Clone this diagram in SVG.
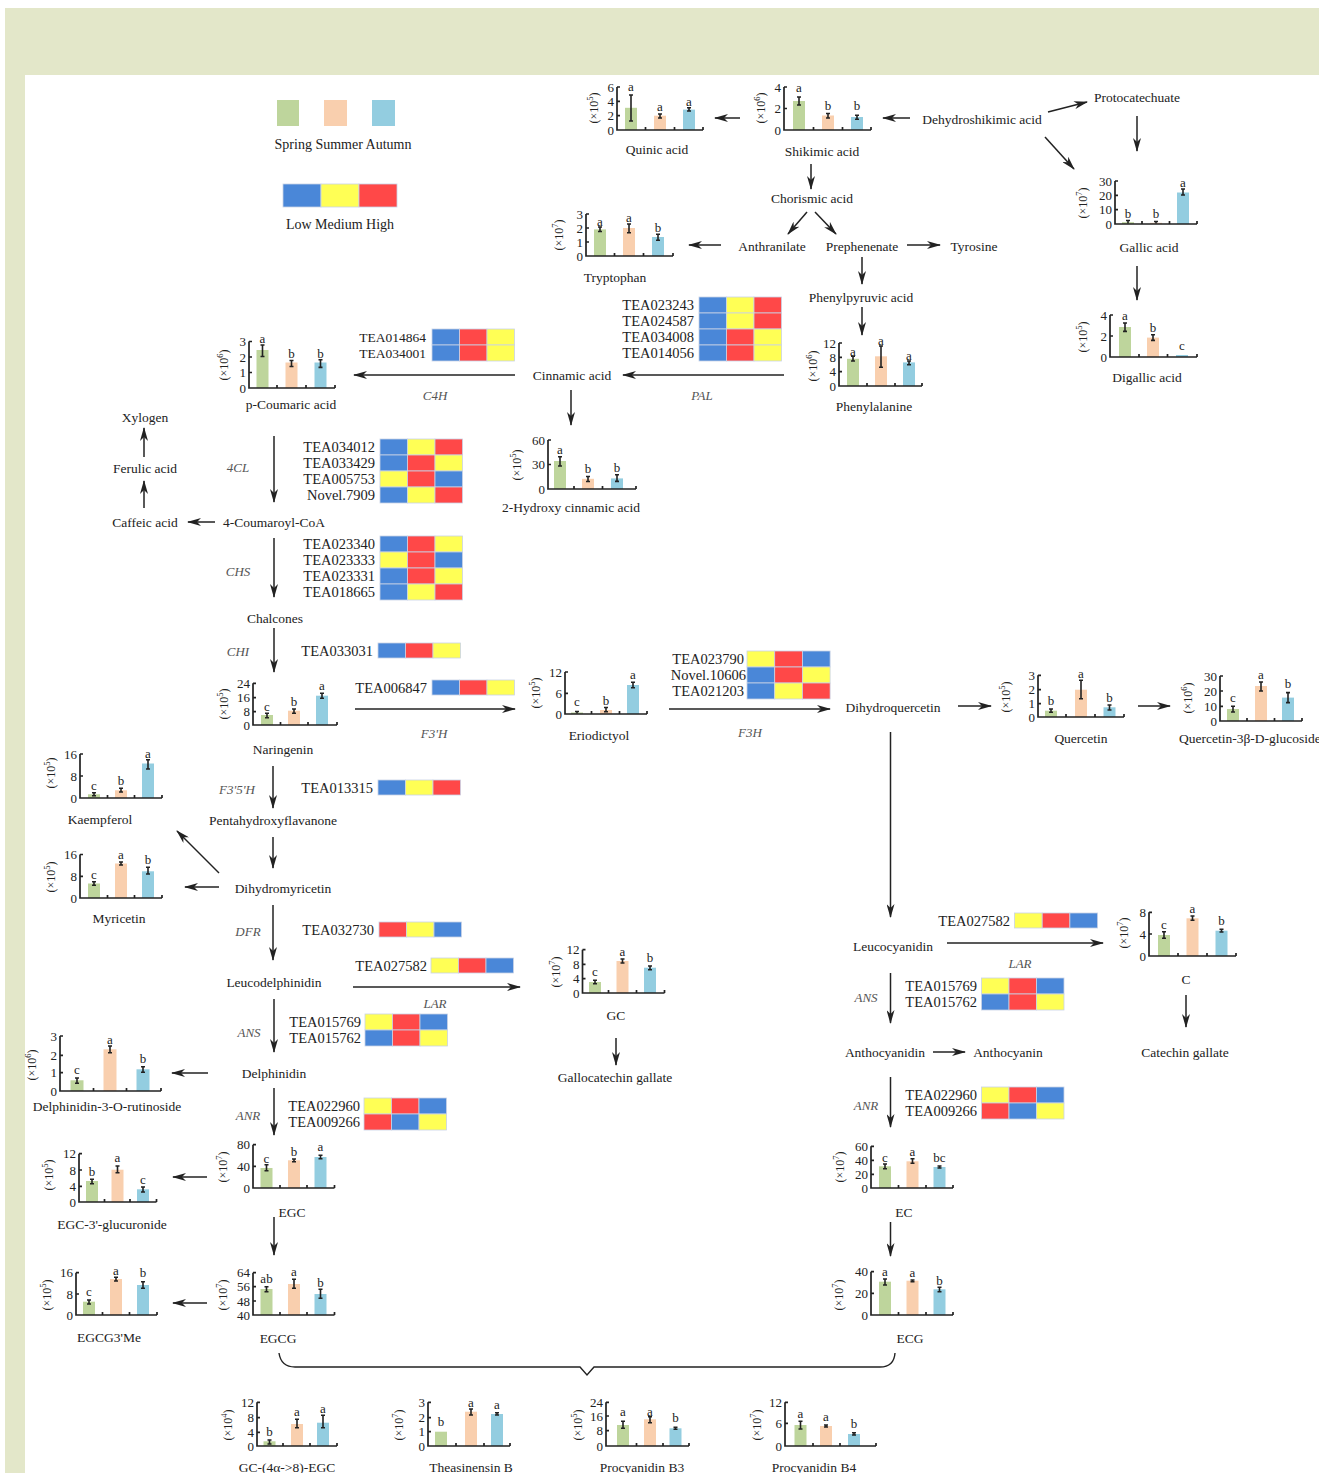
<svg xmlns="http://www.w3.org/2000/svg" width="1319" height="1473" viewBox="0 0 1319 1473">
<style>
text{font-family:"Liberation Serif","Times New Roman",serif;fill:#222;dominant-baseline:central}
.lb{font-size:13.5px;text-anchor:middle}
.tk{font-size:13px;text-anchor:end}
.lt{font-size:13px;text-anchor:middle}
.yl{font-size:12px;text-anchor:middle}
.sp{font-size:8.5px}
.en{font-size:13px;font-style:italic;text-anchor:middle;fill:#555}
.gn{font-size:14.5px;text-anchor:end}
.g{fill:#bed59c}.o{fill:#f9cfae}.b{fill:#93cde0}
.hB{fill:#4a87d8;stroke:#c9d3e6;stroke-width:0.8}.hY{fill:#ffff55;stroke:#c9d3e6;stroke-width:0.8}.hR{fill:#ff4848;stroke:#c9d3e6;stroke-width:0.8}
.ax{fill:none;stroke:#222;stroke-width:1.7}
.eb{fill:none;stroke:#222;stroke-width:1.6}
.ar{fill:none;stroke:#222;stroke-width:1.5;marker-end:url(#ah)}
.br{fill:none;stroke:#222;stroke-width:1.4}
</style>
<defs>
<marker id="ah" markerUnits="userSpaceOnUse" markerWidth="14" markerHeight="8" refX="13" refY="4" orient="auto"><path d="M0,0 L14,4 L0,8 L4,4 z" fill="#222"/></marker>
</defs>
<rect x="0" y="0" width="1319" height="1473" fill="#fff"/>
<rect x="5" y="8" width="1314" height="67" fill="#e3e7c9"/>
<rect x="5" y="75" width="20" height="1398" fill="#e3e7c9"/>

<g id="legend">
<rect class="g" x="277" y="100" width="22" height="26"/>
<rect class="o" x="324" y="100" width="23" height="26"/>
<rect class="b" x="372" y="100" width="23" height="26"/>
<text class="lb" x="343" y="144" style="font-size:14px">Spring Summer Autumn</text>
<rect class="hB" x="283" y="184" width="38" height="23"/>
<rect class="hY" x="321" y="184" width="38" height="23"/>
<rect class="hR" x="359" y="184" width="38" height="23"/>
<text class="lb" x="340" y="224" style="font-size:14px">Low Medium High</text>
</g>

<g id="connectors">
<line class="ar" x1="740" y1="118" x2="715" y2="118"/>
<line class="ar" x1="910" y1="118" x2="883" y2="118"/>
<line class="ar" x1="1048" y1="112" x2="1087" y2="102"/>
<line class="ar" x1="1045" y1="137" x2="1074" y2="169"/>
<line class="ar" x1="1137" y1="116" x2="1137" y2="151"/>
<line class="ar" x1="1137" y1="266" x2="1137" y2="300"/>
<line class="ar" x1="811" y1="164" x2="811" y2="189"/>
<line class="ar" x1="807" y1="212" x2="788" y2="234"/>
<line class="ar" x1="815" y1="212" x2="836" y2="234"/>
<line class="ar" x1="721" y1="245" x2="689" y2="245"/>
<line class="ar" x1="907" y1="245" x2="940" y2="245"/>
<line class="ar" x1="862" y1="257" x2="862" y2="284"/>
<line class="ar" x1="862" y1="307" x2="862" y2="335"/>
<line class="ar" x1="784" y1="375" x2="623" y2="375"/>
<line class="ar" x1="515" y1="375" x2="354" y2="375"/>
<line class="ar" x1="571" y1="390" x2="571" y2="425"/>
<line class="ar" x1="274" y1="436" x2="274" y2="502"/>
<line class="ar" x1="215" y1="522" x2="188" y2="522"/>
<line class="ar" x1="144" y1="508" x2="144" y2="481"/>
<line class="ar" x1="144" y1="457" x2="144" y2="428"/>
<line class="ar" x1="274" y1="538" x2="274" y2="597"/>
<line class="ar" x1="274" y1="628" x2="274" y2="672"/>
<line class="ar" x1="355" y1="709" x2="515" y2="709"/>
<line class="ar" x1="669" y1="709" x2="830" y2="709"/>
<line class="ar" x1="958" y1="706" x2="991" y2="706"/>
<line class="ar" x1="1138" y1="706" x2="1170" y2="706"/>
<line class="ar" x1="890.5" y1="732" x2="890.5" y2="917"/>
<line class="ar" x1="273" y1="766" x2="273" y2="808"/>
<line class="ar" x1="273" y1="837" x2="273" y2="868"/>
<line class="ar" x1="219" y1="887" x2="185" y2="887"/>
<line class="ar" x1="219" y1="873" x2="177" y2="831"/>
<line class="ar" x1="273" y1="905" x2="273" y2="960"/>
<line class="ar" x1="353" y1="987" x2="520" y2="987"/>
<line class="ar" x1="274" y1="999" x2="274" y2="1052"/>
<line class="ar" x1="208" y1="1073" x2="172" y2="1073"/>
<line class="ar" x1="274" y1="1088" x2="274" y2="1135"/>
<line class="ar" x1="207" y1="1177" x2="173" y2="1177"/>
<line class="ar" x1="274" y1="1217" x2="274" y2="1255"/>
<line class="ar" x1="207" y1="1303" x2="173" y2="1303"/>
<line class="ar" x1="616" y1="1038" x2="616" y2="1065"/>
<line class="ar" x1="947" y1="943" x2="1103" y2="943"/>
<line class="ar" x1="1186" y1="995" x2="1186" y2="1027"/>
<line class="ar" x1="890.5" y1="973" x2="890.5" y2="1023"/>
<line class="ar" x1="933" y1="1052" x2="965" y2="1052"/>
<line class="ar" x1="890.5" y1="1077" x2="890.5" y2="1127"/>
<line class="ar" x1="890.5" y1="1222" x2="890.5" y2="1256"/>
<path class="br" d="M279,1353 Q281,1367 295,1367 L580,1367 L587,1375 L594,1367 L880,1367 Q894,1367 895,1353"/>
</g>

<g id="labels">
<text class="lb" x="982" y="119">Dehydroshikimic acid</text>
<text class="lb" x="1137" y="97">Protocatechuate</text>
<text class="lb" x="812" y="198">Chorismic acid</text>
<text class="lb" x="772" y="246">Anthranilate</text>
<text class="lb" x="862" y="246">Prephenenate</text>
<text class="lb" x="974" y="246">Tyrosine</text>
<text class="lb" x="861" y="297">Phenylpyruvic acid</text>
<text class="lb" x="572" y="375">Cinnamic acid</text>
<text class="en" x="702" y="395">PAL</text>
<text class="en" x="435" y="395">C4H</text>
<text class="lb" x="145" y="417">Xylogen</text>
<text class="lb" x="145" y="468">Ferulic acid</text>
<text class="lb" x="145" y="522">Caffeic acid</text>
<text class="lb" x="274" y="522">4-Coumaroyl-CoA</text>
<text class="en" x="238" y="467">4CL</text>
<text class="en" x="238" y="571">CHS</text>
<text class="lb" x="275" y="618">Chalcones</text>
<text class="en" x="238" y="651">CHI</text>
<text class="en" x="434" y="733">F3'H</text>
<text class="en" x="750" y="732">F3H</text>
<text class="lb" x="893" y="707">Dihydroquercetin</text>
<text class="en" x="237" y="789">F3'5'H</text>
<text class="lb" x="273" y="820">Pentahydroxyflavanone</text>
<text class="lb" x="283" y="888">Dihydromyricetin</text>
<text class="en" x="248" y="931">DFR</text>
<text class="lb" x="274" y="982">Leucodelphinidin</text>
<text class="en" x="435" y="1003">LAR</text>
<text class="en" x="249" y="1032">ANS</text>
<text class="lb" x="274" y="1073">Delphinidin</text>
<text class="en" x="248" y="1115">ANR</text>
<text class="lb" x="615" y="1077">Gallocatechin gallate</text>
<text class="lb" x="893" y="946">Leucocyanidin</text>
<text class="en" x="1020" y="963">LAR</text>
<text class="en" x="866" y="997">ANS</text>
<text class="lb" x="885" y="1052">Anthocyanidin</text>
<text class="lb" x="1008" y="1052">Anthocyanin</text>
<text class="lb" x="1185" y="1052">Catechin gallate</text>
<text class="en" x="866" y="1105">ANR</text>
</g>

<g id="h-pal" transform="translate(699,297)">
<rect class="hB" x="0" y="0" width="27.5" height="16"/><rect class="hY" x="27.5" y="0" width="27.5" height="16"/><rect class="hR" x="55" y="0" width="27.5" height="16"/>
<rect class="hB" x="0" y="16" width="27.5" height="16"/><rect class="hY" x="27.5" y="16" width="27.5" height="16"/><rect class="hR" x="55" y="16" width="27.5" height="16"/>
<rect class="hB" x="0" y="32" width="27.5" height="16"/><rect class="hR" x="27.5" y="32" width="27.5" height="16"/><rect class="hY" x="55" y="32" width="27.5" height="16"/>
<rect class="hB" x="0" y="48" width="27.5" height="16"/><rect class="hR" x="27.5" y="48" width="27.5" height="16"/><rect class="hY" x="55" y="48" width="27.5" height="16"/>
<text class="gn" x="-5" y="8">TEA023243</text><text class="gn" x="-5" y="24">TEA024587</text><text class="gn" x="-5" y="40">TEA034008</text><text class="gn" x="-5" y="56">TEA014056</text>
</g>
<g id="h-c4h" transform="translate(432,329)">
<rect class="hB" x="0" y="0" width="27.5" height="16"/><rect class="hR" x="27.5" y="0" width="27.5" height="16"/><rect class="hY" x="55" y="0" width="27.5" height="16"/>
<rect class="hB" x="0" y="16" width="27.5" height="16"/><rect class="hR" x="27.5" y="16" width="27.5" height="16"/><rect class="hY" x="55" y="16" width="27.5" height="16"/>
<text class="gn" x="-6" y="8" style="font-size:13.5px">TEA014864</text><text class="gn" x="-6" y="24" style="font-size:13.5px">TEA034001</text>
</g>
<g id="h-4cl" transform="translate(380,439)">
<rect class="hB" x="0" y="0" width="27.5" height="16"/><rect class="hY" x="27.5" y="0" width="27.5" height="16"/><rect class="hR" x="55" y="0" width="27.5" height="16"/>
<rect class="hB" x="0" y="16" width="27.5" height="16"/><rect class="hR" x="27.5" y="16" width="27.5" height="16"/><rect class="hY" x="55" y="16" width="27.5" height="16"/>
<rect class="hY" x="0" y="32" width="27.5" height="16"/><rect class="hR" x="27.5" y="32" width="27.5" height="16"/><rect class="hB" x="55" y="32" width="27.5" height="16"/>
<rect class="hB" x="0" y="48" width="27.5" height="16"/><rect class="hY" x="27.5" y="48" width="27.5" height="16"/><rect class="hR" x="55" y="48" width="27.5" height="16"/>
<text class="gn" x="-5" y="8">TEA034012</text><text class="gn" x="-5" y="24">TEA033429</text><text class="gn" x="-5" y="40">TEA005753</text><text class="gn" x="-5" y="56">Novel.7909</text>
</g>
<g id="h-chs" transform="translate(380,536)">
<rect class="hB" x="0" y="0" width="27.5" height="16"/><rect class="hR" x="27.5" y="0" width="27.5" height="16"/><rect class="hY" x="55" y="0" width="27.5" height="16"/>
<rect class="hY" x="0" y="16" width="27.5" height="16"/><rect class="hR" x="27.5" y="16" width="27.5" height="16"/><rect class="hB" x="55" y="16" width="27.5" height="16"/>
<rect class="hB" x="0" y="32" width="27.5" height="16"/><rect class="hR" x="27.5" y="32" width="27.5" height="16"/><rect class="hY" x="55" y="32" width="27.5" height="16"/>
<rect class="hB" x="0" y="48" width="27.5" height="16"/><rect class="hY" x="27.5" y="48" width="27.5" height="16"/><rect class="hR" x="55" y="48" width="27.5" height="16"/>
<text class="gn" x="-5" y="8">TEA023340</text><text class="gn" x="-5" y="24">TEA023333</text><text class="gn" x="-5" y="40">TEA023331</text><text class="gn" x="-5" y="56">TEA018665</text>
</g>
<g id="h-chi" transform="translate(378,643)">
<rect class="hB" x="0" y="0" width="27.5" height="15"/><rect class="hR" x="27.5" y="0" width="27.5" height="15"/><rect class="hY" x="55" y="0" width="27.5" height="15"/>
<text class="gn" x="-5" y="7.5">TEA033031</text>
</g>
<g id="h-f3h1" transform="translate(432,680)">
<rect class="hB" x="0" y="0" width="27.5" height="15"/><rect class="hR" x="27.5" y="0" width="27.5" height="15"/><rect class="hY" x="55" y="0" width="27.5" height="15"/>
<text class="gn" x="-5" y="7.5">TEA006847</text>
</g>
<g id="h-f3h" transform="translate(747,651)">
<rect class="hY" x="0" y="0" width="27.7" height="16"/><rect class="hR" x="27.7" y="0" width="27.7" height="16"/><rect class="hB" x="55.4" y="0" width="27.7" height="16"/>
<rect class="hB" x="0" y="16" width="27.7" height="16"/><rect class="hR" x="27.7" y="16" width="27.7" height="16"/><rect class="hY" x="55.4" y="16" width="27.7" height="16"/>
<rect class="hB" x="0" y="32" width="27.7" height="16"/><rect class="hY" x="27.7" y="32" width="27.7" height="16"/><rect class="hR" x="55.4" y="32" width="27.7" height="16"/>
<text class="gn" x="-3" y="8">TEA023790</text><text class="gn" x="-1" y="24">Novel.10606</text><text class="gn" x="-3" y="40">TEA021203</text>
</g>
<g id="h-f35h" transform="translate(378,780)">
<rect class="hB" x="0" y="0" width="27.5" height="15"/><rect class="hY" x="27.5" y="0" width="27.5" height="15"/><rect class="hR" x="55" y="0" width="27.5" height="15"/>
<text class="gn" x="-5" y="7.5">TEA013315</text>
</g>
<g id="h-dfr" transform="translate(379,922)">
<rect class="hR" x="0" y="0" width="27.5" height="15"/><rect class="hY" x="27.5" y="0" width="27.5" height="15"/><rect class="hB" x="55" y="0" width="27.5" height="15"/>
<text class="gn" x="-5" y="7.5">TEA032730</text>
</g>
<g id="h-lar1" transform="translate(431,958)">
<rect class="hY" x="0" y="0" width="27.5" height="15"/><rect class="hR" x="27.5" y="0" width="27.5" height="15"/><rect class="hB" x="55" y="0" width="27.5" height="15"/>
<text class="gn" x="-4" y="7.5">TEA027582</text>
</g>
<g id="h-ans1" transform="translate(365,1014)">
<rect class="hY" x="0" y="0" width="27.5" height="16"/><rect class="hR" x="27.5" y="0" width="27.5" height="16"/><rect class="hB" x="55" y="0" width="27.5" height="16"/>
<rect class="hB" x="0" y="16" width="27.5" height="16"/><rect class="hR" x="27.5" y="16" width="27.5" height="16"/><rect class="hY" x="55" y="16" width="27.5" height="16"/>
<text class="gn" x="-4" y="8">TEA015769</text><text class="gn" x="-4" y="24">TEA015762</text>
</g>
<g id="h-anr1" transform="translate(364,1098)">
<rect class="hY" x="0" y="0" width="27.5" height="16"/><rect class="hR" x="27.5" y="0" width="27.5" height="16"/><rect class="hB" x="55" y="0" width="27.5" height="16"/>
<rect class="hR" x="0" y="16" width="27.5" height="16"/><rect class="hB" x="27.5" y="16" width="27.5" height="16"/><rect class="hY" x="55" y="16" width="27.5" height="16"/>
<text class="gn" x="-4" y="8">TEA022960</text><text class="gn" x="-4" y="24">TEA009266</text>
</g>
<g id="h-lar2" transform="translate(1014.5,913)">
<rect class="hY" x="0" y="0" width="27.7" height="15"/><rect class="hR" x="27.7" y="0" width="27.7" height="15"/><rect class="hB" x="55.4" y="0" width="27.7" height="15"/>
<text class="gn" x="-4.5" y="7.5">TEA027582</text>
</g>
<g id="h-ans2" transform="translate(981.5,978)">
<rect class="hY" x="0" y="0" width="27.5" height="16"/><rect class="hR" x="27.5" y="0" width="27.5" height="16"/><rect class="hB" x="55" y="0" width="27.5" height="16"/>
<rect class="hB" x="0" y="16" width="27.5" height="16"/><rect class="hR" x="27.5" y="16" width="27.5" height="16"/><rect class="hY" x="55" y="16" width="27.5" height="16"/>
<text class="gn" x="-4.5" y="8">TEA015769</text><text class="gn" x="-4.5" y="24">TEA015762</text>
</g>
<g id="h-anr2" transform="translate(981.5,1087)">
<rect class="hY" x="0" y="0" width="27.5" height="16"/><rect class="hR" x="27.5" y="0" width="27.5" height="16"/><rect class="hB" x="55" y="0" width="27.5" height="16"/>
<rect class="hR" x="0" y="16" width="27.5" height="16"/><rect class="hB" x="27.5" y="16" width="27.5" height="16"/><rect class="hY" x="55" y="16" width="27.5" height="16"/>
<text class="gn" x="-4.5" y="8">TEA022960</text><text class="gn" x="-4.5" y="24">TEA009266</text>
</g>

<g id="c-quinic" transform="translate(617,130)">
<text class="yl" transform="translate(-23,-22) rotate(-90)">(×10<tspan class="sp" dy="-4">5</tspan><tspan dy="4">)</tspan></text>
<rect class="g" x="8" y="-22.2" width="12" height="22.2"/><rect class="o" x="37" y="-14.3" width="12" height="14.3"/><rect class="b" x="66" y="-20.4" width="12" height="20.4"/>
<path class="eb" d="M14,-35V-9M12,-35h4M12,-9h4M43,-16V-12M41,-16h4M41,-12h4M72,-22.3V-19M70,-22.3h4M70,-19h4"/>
<path class="ax" d="M0,-43V0H86M0,-43h3M0,-28.7h3M0,-14.3h3M28.5,0v-3M57.5,0v-3M86,0v-3"/>
<text class="tk" x="-3" y="-43">6</text><text class="tk" x="-3" y="-28.7">4</text><text class="tk" x="-3" y="-14.3">2</text><text class="tk" x="-3" y="0">0</text>
<text class="lt" x="14" y="-44">a</text><text class="lt" x="43" y="-24">a</text><text class="lt" x="72" y="-29">a</text>
<text class="lb" x="40" y="19">Quinic acid</text>
</g>
<g id="c-shikimic" transform="translate(784,130)">
<text class="yl" transform="translate(-23,-22) rotate(-90)">(×10<tspan class="sp" dy="-4">6</tspan><tspan dy="4">)</tspan></text>
<rect class="g" x="9" y="-29" width="12" height="29"/><rect class="o" x="38" y="-14.5" width="12" height="14.5"/><rect class="b" x="67" y="-13" width="12" height="13"/>
<path class="eb" d="M15,-33V-25M13,-33h4M13,-25h4M44,-16.5V-12M42,-16.5h4M42,-12h4M73,-14.7V-10.7M71,-14.7h4M71,-10.7h4"/>
<path class="ax" d="M0,-43V0H87M0,-43h3M0,-21.5h3M29.5,0v-3M58.5,0v-3M87,0v-3"/>
<text class="tk" x="-3" y="-43">4</text><text class="tk" x="-3" y="-21.5">2</text><text class="tk" x="-3" y="0">0</text>
<text class="lt" x="15" y="-43">a</text><text class="lt" x="44" y="-25">b</text><text class="lt" x="73" y="-25">b</text>
<text class="lb" x="38" y="21">Shikimic acid</text>
</g>
<g id="c-gallic" transform="translate(1115,224)">
<text class="yl" transform="translate(-32,-21) rotate(-90)">(×10<tspan class="sp" dy="-4">7</tspan><tspan dy="4">)</tspan></text>
<rect class="g" x="7" y="-1.8" width="12" height="1.8"/><rect class="o" x="35" y="-1.2" width="12" height="1.2"/><rect class="b" x="62" y="-31.5" width="12" height="31.5"/>
<path class="eb" d="M13,-3.5V-0.5M11,-3.5h4M41,-2.5V-0.5M39,-2.5h4M68,-35V-29M66,-35h4M66,-29h4"/>
<path class="ax" d="M0,-43V0H82M0,-43h3M0,-28.7h3M0,-14.3h3M27,0v-3M54.5,0v-3M82,0v-3"/>
<text class="tk" x="-3" y="-43">30</text><text class="tk" x="-3" y="-28.7">20</text><text class="tk" x="-3" y="-14.3">10</text><text class="tk" x="-3" y="0">0</text>
<text class="lt" x="13" y="-11">b</text><text class="lt" x="41" y="-11">b</text><text class="lt" x="68" y="-42">a</text>
<text class="lb" x="34" y="23">Gallic acid</text>
</g>
<g id="c-digallic" transform="translate(1110,357)">
<text class="yl" transform="translate(-27,-20) rotate(-90)">(×10<tspan class="sp" dy="-4">5</tspan><tspan dy="4">)</tspan></text>
<rect class="g" x="9" y="-30" width="12" height="30"/><rect class="o" x="37" y="-19.4" width="12" height="19.4"/><rect class="b" x="66" y="-2" width="12" height="2"/>
<path class="eb" d="M15,-34V-25.6M13,-34h4M13,-25.6h4M43,-22.3V-16.6M41,-22.3h4M41,-16.6h4"/>
<path class="ax" d="M0,-42V0H87M0,-42h3M0,-21h3M29,0v-3M57.5,0v-3M87,0v-3"/>
<text class="tk" x="-3" y="-42">4</text><text class="tk" x="-3" y="-21">2</text><text class="tk" x="-3" y="0">0</text>
<text class="lt" x="15" y="-42">a</text><text class="lt" x="43" y="-30">b</text><text class="lt" x="72" y="-12">c</text>
<text class="lb" x="37" y="20">Digallic acid</text>
</g>
<g id="c-tryptophan" transform="translate(586,256)">
<text class="yl" transform="translate(-27,-21) rotate(-90)">(×10<tspan class="sp" dy="-4">7</tspan><tspan dy="4">)</tspan></text>
<rect class="g" x="8" y="-26.6" width="12" height="26.6"/><rect class="o" x="37" y="-28" width="12" height="28"/><rect class="b" x="66" y="-19" width="12" height="19"/>
<path class="eb" d="M14,-29V-24.5M12,-29h4M12,-24.5h4M43,-32V-23.3M41,-32h4M41,-23.3h4M72,-21.7V-15.7M70,-21.7h4M70,-15.7h4"/>
<path class="ax" d="M0,-42V0H87M0,-42h3M0,-28h3M0,-14h3M28.5,0v-3M57.5,0v-3M87,0v-3"/>
<text class="tk" x="-3" y="-42">3</text><text class="tk" x="-3" y="-28">2</text><text class="tk" x="-3" y="-14">1</text><text class="tk" x="-3" y="0">0</text>
<text class="lt" x="14" y="-35">a</text><text class="lt" x="43" y="-39">a</text><text class="lt" x="72" y="-29">b</text>
<text class="lb" x="29" y="21">Tryptophan</text>
</g>
<g id="c-phenylalanine" transform="translate(839,386)">
<text class="yl" transform="translate(-26,-20) rotate(-90)">(×10<tspan class="sp" dy="-4">6</tspan><tspan dy="4">)</tspan></text>
<rect class="g" x="8" y="-27.2" width="12" height="27.2"/><rect class="o" x="36" y="-29.7" width="12" height="29.7"/><rect class="b" x="64" y="-23.6" width="12" height="23.6"/>
<path class="eb" d="M14,-29.7V-25M12,-29.7h4M12,-25h4M42,-40V-18.7M40,-40h4M40,-18.7h4M70,-25V-21.3M68,-25h4M68,-21.3h4"/>
<path class="ax" d="M0,-43V0H83M0,-43h3M0,-28.7h3M0,-14.3h3M28,0v-3M56,0v-3M83,0v-3"/>
<text class="tk" x="-3" y="-43">12</text><text class="tk" x="-3" y="-28.7">8</text><text class="tk" x="-3" y="-14.3">4</text><text class="tk" x="-3" y="0">0</text>
<text class="lt" x="14" y="-35">a</text><text class="lt" x="42" y="-46">a</text><text class="lt" x="70" y="-31">a</text>
<text class="lb" x="35" y="20">Phenylalanine</text>
</g>
<g id="c-pcoumaric" transform="translate(249,388)">
<text class="yl" transform="translate(-25,-23) rotate(-90)">(×10<tspan class="sp" dy="-4">6</tspan><tspan dy="4">)</tspan></text>
<rect class="g" x="7.5" y="-38" width="12" height="38"/><rect class="o" x="36.5" y="-25.5" width="12" height="25.5"/><rect class="b" x="65.5" y="-25.5" width="12" height="25.5"/>
<path class="eb" d="M13.5,-43V-31.5M11.5,-43h4M11.5,-31.5h4M42.5,-27.5V-21.5M40.5,-27.5h4M40.5,-21.5h4M71.5,-28.3V-20.6M69.5,-28.3h4M69.5,-20.6h4"/>
<path class="ax" d="M0,-46.5V0H86M0,-46.5h3M0,-31h3M0,-15.5h3M28,0v-3M57,0v-3M86,0v-3"/>
<text class="tk" x="-3" y="-46.5">3</text><text class="tk" x="-3" y="-31">2</text><text class="tk" x="-3" y="-15.5">1</text><text class="tk" x="-3" y="0">0</text>
<text class="lt" x="13.5" y="-50">a</text><text class="lt" x="42.5" y="-35">b</text><text class="lt" x="71.5" y="-35">b</text>
<text class="lb" x="42" y="16">p-Coumaric acid</text>
</g>
<g id="c-hydroxycinnamic" transform="translate(548,489)">
<text class="yl" transform="translate(-31,-24) rotate(-90)">(×10<tspan class="sp" dy="-4">5</tspan><tspan dy="4">)</tspan></text>
<rect class="g" x="6" y="-28" width="12" height="28"/><rect class="o" x="34" y="-10.2" width="12" height="10.2"/><rect class="b" x="63" y="-10.6" width="12" height="10.6"/>
<path class="eb" d="M12,-32.3V-23M10,-32.3h4M10,-23h4M40,-12.5V-7.5M38,-12.5h4M38,-7.5h4M69,-14.3V-7.6M67,-14.3h4M67,-7.6h4"/>
<path class="ax" d="M0,-49V0H88M0,-49h3M0,-24.5h3M26,0v-3M54.5,0v-3M88,0v-3"/>
<text class="tk" x="-3" y="-49">60</text><text class="tk" x="-3" y="-24.5">30</text><text class="tk" x="-3" y="0">0</text>
<text class="lt" x="12" y="-40">a</text><text class="lt" x="40" y="-21">b</text><text class="lt" x="69" y="-22">b</text>
<text class="lb" x="23" y="18">2-Hydroxy cinnamic acid</text>
</g>
<g id="c-naringenin" transform="translate(253,725)">
<text class="yl" transform="translate(-29,-21) rotate(-90)">(×10<tspan class="sp" dy="-4">5</tspan><tspan dy="4">)</tspan></text>
<rect class="g" x="8" y="-10" width="12" height="10"/><rect class="o" x="35" y="-14.3" width="12" height="14.3"/><rect class="b" x="63" y="-29.3" width="12" height="29.3"/>
<path class="eb" d="M14,-11.7V-7.3M12,-11.7h4M12,-7.3h4M41,-16V-11.7M39,-16h4M39,-11.7h4M69,-31.7V-26.7M67,-31.7h4M67,-26.7h4"/>
<path class="ax" d="M0,-41.7V0H84M0,-41.7h3M0,-27.3h3M0,-13.3h3M27.5,0v-3M55,0v-3M84,0v-3"/>
<text class="tk" x="-3" y="-41.7">24</text><text class="tk" x="-3" y="-27.3">16</text><text class="tk" x="-3" y="-13.3">8</text><text class="tk" x="-3" y="0">0</text>
<text class="lt" x="14" y="-19">c</text><text class="lt" x="41" y="-23.3">b</text><text class="lt" x="69" y="-40">a</text>
<text class="lb" x="30" y="24">Naringenin</text>
</g>
<g id="c-eriodictyol" transform="translate(565,714)">
<text class="yl" transform="translate(-29,-21) rotate(-90)">(×10<tspan class="sp" dy="-4">5</tspan><tspan dy="4">)</tspan></text>
<rect class="g" x="6" y="-1.5" width="12" height="1.5"/><rect class="o" x="35" y="-4" width="12" height="4"/><rect class="b" x="62" y="-29" width="12" height="29"/>
<path class="eb" d="M12,-2.5V-0.5M10,-2.5h4M41,-6.5V-2.3M39,-6.5h4M39,-2.3h4M68,-31.7V-26.3M66,-31.7h4M66,-26.3h4"/>
<path class="ax" d="M0,-42V0H82M0,-42h3M0,-20.7h3M26.5,0v-3M54.5,0v-3M82,0v-3"/>
<text class="tk" x="-3" y="-42">12</text><text class="tk" x="-3" y="-20.7">6</text><text class="tk" x="-3" y="0">0</text>
<text class="lt" x="12" y="-12.3">c</text><text class="lt" x="41" y="-14">b</text><text class="lt" x="68" y="-40">a</text>
<text class="lb" x="34" y="21">Eriodictyol</text>
</g>
<g id="c-quercetin" transform="translate(1038,717)">
<text class="yl" transform="translate(-32,-20) rotate(-90)">(×10<tspan class="sp" dy="-4">5</tspan><tspan dy="4">)</tspan></text>
<rect class="g" x="7" y="-6.3" width="12" height="6.3"/><rect class="o" x="37" y="-27.3" width="12" height="27.3"/><rect class="b" x="65.5" y="-9.7" width="12" height="9.7"/>
<path class="eb" d="M13,-8V-4.7M11,-8h4M11,-4.7h4M43,-36.7V-18.3M41,-36.7h4M41,-18.3h4M71.5,-12V-7M69.5,-12h4M69.5,-7h4"/>
<path class="ax" d="M0,-41.7V0H86M0,-41.7h3M0,-27.3h3M0,-13.3h3M28,0v-3M57,0v-3M86,0v-3"/>
<text class="tk" x="-3" y="-41.7">3</text><text class="tk" x="-3" y="-27.3">2</text><text class="tk" x="-3" y="-13.3">1</text><text class="tk" x="-3" y="0">0</text>
<text class="lt" x="13" y="-16.7">b</text><text class="lt" x="43" y="-44">a</text><text class="lt" x="71.5" y="-20">b</text>
<text class="lb" x="43" y="21">Quercetin</text>
</g>
<g id="c-q3g" transform="translate(1220,721)">
<text class="yl" transform="translate(-32,-23) rotate(-90)">(×10<tspan class="sp" dy="-4">6</tspan><tspan dy="4">)</tspan></text>
<rect class="g" x="7" y="-12" width="12" height="12"/><rect class="o" x="35" y="-35" width="12" height="35"/><rect class="b" x="62" y="-23.4" width="12" height="23.4"/>
<path class="eb" d="M13,-14.7V-9M11,-14.7h4M11,-9h4M41,-39V-30M39,-39h4M39,-30h4M68,-28.4V-18.4M66,-28.4h4M66,-18.4h4"/>
<path class="ax" d="M0,-45V0H82M0,-45h3M0,-30h3M0,-14.7h3M27,0v-3M54.5,0v-3M82,0v-3"/>
<text class="tk" x="-3" y="-45">30</text><text class="tk" x="-3" y="-30">20</text><text class="tk" x="-3" y="-14.7">10</text><text class="tk" x="-3" y="0">0</text>
<text class="lt" x="13" y="-24">c</text><text class="lt" x="41" y="-47">a</text><text class="lt" x="68" y="-38">b</text>
<text class="lb" x="-41" y="17" style="text-anchor:start">Quercetin-3β-D-glucoside</text>
</g>
<g id="c-kaempferol" transform="translate(80,798)">
<text class="yl" transform="translate(-29,-25) rotate(-90)">(×10<tspan class="sp" dy="-4">5</tspan><tspan dy="4">)</tspan></text>
<rect class="g" x="8" y="-3.7" width="12" height="3.7"/><rect class="o" x="35" y="-7.7" width="12" height="7.7"/><rect class="b" x="62" y="-34.5" width="12" height="34.5"/>
<path class="eb" d="M14,-5.3V-2.3M12,-5.3h4M12,-2.3h4M41,-9.7V-6M39,-9.7h4M39,-6h4M68,-38.3V-29M66,-38.3h4M66,-29h4"/>
<path class="ax" d="M0,-44V0H82M0,-44h3M0,-22h3M27.5,0v-3M54.5,0v-3M82,0v-3"/>
<text class="tk" x="-3" y="-44">16</text><text class="tk" x="-3" y="-22">8</text><text class="tk" x="-3" y="0">0</text>
<text class="lt" x="14" y="-13">c</text><text class="lt" x="41" y="-17.3">b</text><text class="lt" x="68" y="-45">a</text>
<text class="lb" x="20" y="21">Kaempferol</text>
</g>
<g id="c-myricetin" transform="translate(80,898)">
<text class="yl" transform="translate(-29,-21) rotate(-90)">(×10<tspan class="sp" dy="-4">5</tspan><tspan dy="4">)</tspan></text>
<rect class="g" x="8" y="-14.5" width="12" height="14.5"/><rect class="o" x="35" y="-34.5" width="12" height="34.5"/><rect class="b" x="62" y="-26.7" width="12" height="26.7"/>
<path class="eb" d="M14,-16.3V-12.7M12,-16.3h4M12,-12.7h4M41,-36V-33M39,-36h4M39,-33h4M68,-30.7V-24M66,-30.7h4M66,-24h4"/>
<path class="ax" d="M0,-43.5V0H82M0,-43.5h3M0,-21.7h3M27.5,0v-3M54.5,0v-3M82,0v-3"/>
<text class="tk" x="-3" y="-43.5">16</text><text class="tk" x="-3" y="-21.7">8</text><text class="tk" x="-3" y="0">0</text>
<text class="lt" x="14" y="-23.5">c</text><text class="lt" x="41" y="-43.5">a</text><text class="lt" x="68" y="-38.5">b</text>
<text class="lb" x="39" y="20">Myricetin</text>
</g>
<g id="c-d3or" transform="translate(60,1091)">
<text class="yl" transform="translate(-28,-26) rotate(-90)">(×10<tspan class="sp" dy="-4">6</tspan><tspan dy="4">)</tspan></text>
<rect class="g" x="10.5" y="-10.7" width="13" height="10.7"/><rect class="o" x="43.5" y="-41.7" width="13" height="41.7"/><rect class="b" x="76.5" y="-21.7" width="13" height="21.7"/>
<path class="eb" d="M17,-13V-7.7M15,-13h4M15,-7.7h4M50,-45V-38.3M48,-45h4M48,-38.3h4M83,-24.3V-18.7M81,-24.3h4M81,-18.7h4"/>
<path class="ax" d="M0,-55V0H101M0,-55h3M0,-35.7h3M0,-18.3h3M33.5,0v-3M66.5,0v-3M101,0v-3"/>
<text class="tk" x="-3" y="-55">3</text><text class="tk" x="-3" y="-35.7">2</text><text class="tk" x="-3" y="-18.3">1</text><text class="tk" x="-3" y="0">0</text>
<text class="lt" x="17" y="-21.7">c</text><text class="lt" x="50" y="-51.7">a</text><text class="lt" x="83" y="-32.7">b</text>
<text class="lb" x="47" y="15">Delphinidin-3-O-rutinoside</text>
</g>
<g id="c-gc" transform="translate(582.5,993)">
<text class="yl" transform="translate(-26.5,-21) rotate(-90)">(×10<tspan class="sp" dy="-4">7</tspan><tspan dy="4">)</tspan></text>
<rect class="g" x="6.5" y="-11" width="12" height="11"/><rect class="o" x="34" y="-32" width="12" height="32"/><rect class="b" x="61.5" y="-25.3" width="12" height="25.3"/>
<path class="eb" d="M12.5,-12.7V-9.3M10.5,-12.7h4M10.5,-9.3h4M40,-34V-30M38,-34h4M38,-30h4M67.5,-27V-23.3M65.5,-27h4M65.5,-23.3h4"/>
<path class="ax" d="M0,-43.3V0H82M0,-43.3h3M0,-28.7h3M0,-14.3h3M26,0v-3M54,0v-3M82,0v-3"/>
<text class="tk" x="-3" y="-43.3">12</text><text class="tk" x="-3" y="-28.7">8</text><text class="tk" x="-3" y="-14.3">4</text><text class="tk" x="-3" y="0">0</text>
<text class="lt" x="12.5" y="-22">c</text><text class="lt" x="40" y="-42">a</text><text class="lt" x="67.5" y="-35.7">b</text>
<text class="lb" x="33.5" y="22">GC</text>
</g>
<g id="c-c" transform="translate(1149,956)">
<text class="yl" transform="translate(-25,-23) rotate(-90)">(×10<tspan class="sp" dy="-4">7</tspan><tspan dy="4">)</tspan></text>
<rect class="g" x="9" y="-21" width="12" height="21"/><rect class="o" x="37.5" y="-37.7" width="12" height="37.7"/><rect class="b" x="66.5" y="-25.3" width="12" height="25.3"/>
<path class="eb" d="M15,-24.3V-17.7M13,-24.3h4M13,-17.7h4M43.5,-40V-35.7M41.5,-40h4M41.5,-35.7h4M72.5,-26.7V-24M70.5,-26.7h4M70.5,-24h4"/>
<path class="ax" d="M0,-43.7V0H87M0,-43.7h3M0,-22h3M29,0v-3M58,0v-3M87,0v-3"/>
<text class="tk" x="-3" y="-43.7">8</text><text class="tk" x="-3" y="-22">4</text><text class="tk" x="-3" y="0">0</text>
<text class="lt" x="15" y="-32">c</text><text class="lt" x="43.5" y="-47.7">a</text><text class="lt" x="72.5" y="-35.3">b</text>
<text class="lb" x="37" y="23">C</text>
</g>
<g id="c-egc" transform="translate(253,1188)">
<text class="yl" transform="translate(-30,-21) rotate(-90)">(×10<tspan class="sp" dy="-4">7</tspan><tspan dy="4">)</tspan></text>
<rect class="g" x="7.5" y="-20" width="12" height="20"/><rect class="o" x="35" y="-27.7" width="12" height="27.7"/><rect class="b" x="61.5" y="-31" width="12" height="31"/>
<path class="eb" d="M13.5,-23.3V-17.3M11.5,-23.3h4M11.5,-17.3h4M41,-29V-26.3M39,-29h4M39,-26.3h4M67.5,-32.7V-29.3M65.5,-32.7h4M65.5,-29.3h4"/>
<path class="ax" d="M0,-43.3V0H81.5M0,-43.3h3M0,-21.7h3M27,0v-3M54,0v-3M81.5,0v-3"/>
<text class="tk" x="-3" y="-43.3">80</text><text class="tk" x="-3" y="-21.7">40</text><text class="tk" x="-3" y="0">0</text>
<text class="lt" x="13.5" y="-29.3">c</text><text class="lt" x="41" y="-36.7">b</text><text class="lt" x="67.5" y="-41.7">a</text>
<text class="lb" x="39" y="24">EGC</text>
</g>
<g id="c-egc3g" transform="translate(79,1202)">
<text class="yl" transform="translate(-30,-27) rotate(-90)">(×10<tspan class="sp" dy="-4">5</tspan><tspan dy="4">)</tspan></text>
<rect class="g" x="7" y="-21" width="12" height="21"/><rect class="o" x="32.5" y="-32.3" width="12" height="32.3"/><rect class="b" x="58" y="-12.7" width="12" height="12.7"/>
<path class="eb" d="M13,-22.7V-18.3M11,-22.7h4M11,-18.3h4M38.5,-36V-29.3M36.5,-36h4M36.5,-29.3h4M64,-15V-10M62,-15h4M62,-10h4"/>
<path class="ax" d="M0,-48.3V0H77.5M0,-48.3h3M0,-32h3M0,-15.7h3M25.5,0v-3M51,0v-3M77.5,0v-3"/>
<text class="tk" x="-3" y="-48.3">12</text><text class="tk" x="-3" y="-32">8</text><text class="tk" x="-3" y="-15.7">4</text><text class="tk" x="-3" y="0">0</text>
<text class="lt" x="13" y="-31">b</text><text class="lt" x="38.5" y="-44.3">a</text><text class="lt" x="64" y="-22.7">c</text>
<text class="lb" x="33" y="22">EGC-3'-glucuronide</text>
</g>
<g id="c-egcg" transform="translate(253,1315)">
<text class="yl" transform="translate(-30,-20) rotate(-90)">(×10<tspan class="sp" dy="-4">7</tspan><tspan dy="4">)</tspan></text>
<rect class="g" x="7.5" y="-26" width="12" height="26"/><rect class="o" x="35" y="-31" width="12" height="31"/><rect class="b" x="61.5" y="-21" width="12" height="21"/>
<path class="eb" d="M13.5,-28.3V-23.3M11.5,-28.3h4M11.5,-23.3h4M41,-35.7V-26.7M39,-35.7h4M39,-26.7h4M67.5,-25.7V-16.7M65.5,-25.7h4M65.5,-16.7h4"/>
<path class="ax" d="M0,-42.3V0H81.5M0,-42.3h3M0,-28.3h3M0,-14h3M27,0v-3M54,0v-3M81.5,0v-3"/>
<text class="tk" x="-3" y="-42.3">64</text><text class="tk" x="-3" y="-28.3">56</text><text class="tk" x="-3" y="-14">48</text><text class="tk" x="-3" y="0">40</text>
<text class="lt" x="13.5" y="-36.7">ab</text><text class="lt" x="41" y="-43.3">a</text><text class="lt" x="67.5" y="-32.7">b</text>
<text class="lb" x="25" y="23">EGCG</text>
</g>
<g id="c-egcg3me" transform="translate(76,1315)">
<text class="yl" transform="translate(-29,-20) rotate(-90)">(×10<tspan class="sp" dy="-4">5</tspan><tspan dy="4">)</tspan></text>
<rect class="g" x="7" y="-13.3" width="12" height="13.3"/><rect class="o" x="34" y="-36" width="12" height="36"/><rect class="b" x="61" y="-30" width="12" height="30"/>
<path class="eb" d="M13,-15V-11M11,-15h4M11,-11h4M40,-37.7V-34M38,-37.7h4M38,-34h4M67,-33.3V-26.7M65,-33.3h4M65,-26.7h4"/>
<path class="ax" d="M0,-42.3V0H81M0,-42.3h3M0,-21h3M26.5,0v-3M53.5,0v-3M81,0v-3"/>
<text class="tk" x="-3" y="-42.3">16</text><text class="tk" x="-3" y="-21">8</text><text class="tk" x="-3" y="0">0</text>
<text class="lt" x="13" y="-23.3">c</text><text class="lt" x="40" y="-44.3">a</text><text class="lt" x="67" y="-42.3">b</text>
<text class="lb" x="33" y="22">EGCG3'Me</text>
</g>
<g id="c-ec" transform="translate(871,1188)">
<text class="yl" transform="translate(-31,-21) rotate(-90)">(×10<tspan class="sp" dy="-4">7</tspan><tspan dy="4">)</tspan></text>
<rect class="g" x="8" y="-21.7" width="12" height="21.7"/><rect class="o" x="35.5" y="-26.7" width="12" height="26.7"/><rect class="b" x="62.5" y="-21" width="12" height="21"/>
<path class="eb" d="M14,-24V-19.3M12,-24h4M12,-19.3h4M41.5,-29.3V-24.7M39.5,-29.3h4M39.5,-24.7h4M68.5,-22V-20M66.5,-22h4M66.5,-20h4"/>
<path class="ax" d="M0,-41.7V0H82M0,-41.7h3M0,-27.7h3M0,-13.7h3M27.5,0v-3M55,0v-3M82,0v-3"/>
<text class="tk" x="-3" y="-41.7">60</text><text class="tk" x="-3" y="-27.7">40</text><text class="tk" x="-3" y="-13.7">20</text><text class="tk" x="-3" y="0">0</text>
<text class="lt" x="14" y="-31">c</text><text class="lt" x="41.5" y="-36.7">a</text><text class="lt" x="68.5" y="-30.3">bc</text>
<text class="lb" x="33" y="24">EC</text>
</g>
<g id="c-ecg" transform="translate(871,1315)">
<text class="yl" transform="translate(-32,-20) rotate(-90)">(×10<tspan class="sp" dy="-4">7</tspan><tspan dy="4">)</tspan></text>
<rect class="g" x="8" y="-33.3" width="12" height="33.3"/><rect class="o" x="35.5" y="-34.3" width="12" height="34.3"/><rect class="b" x="62.5" y="-25.7" width="12" height="25.7"/>
<path class="eb" d="M14,-36V-30M12,-36h4M12,-30h4M41.5,-35V-33.3M39.5,-35h4M39.5,-33.3h4M68.5,-27.7V-23.3M66.5,-27.7h4M66.5,-23.3h4"/>
<path class="ax" d="M0,-43.3V0H82M0,-43.3h3M0,-21.7h3M27.5,0v-3M55,0v-3M82,0v-3"/>
<text class="tk" x="-3" y="-43.3">40</text><text class="tk" x="-3" y="-21.7">20</text><text class="tk" x="-3" y="0">0</text>
<text class="lt" x="14" y="-43.3">a</text><text class="lt" x="41.5" y="-42.7">a</text><text class="lt" x="68.5" y="-35">b</text>
<text class="lb" x="39" y="23">ECG</text>
</g>
<g id="c-gcegc" transform="translate(257,1446)">
<text class="yl" transform="translate(-29,-21) rotate(-90)">(×10<tspan class="sp" dy="-4">4</tspan><tspan dy="4">)</tspan></text>
<rect class="g" x="6.5" y="-4.7" width="12" height="4.7"/><rect class="o" x="34" y="-22" width="12" height="22"/><rect class="b" x="60" y="-23.3" width="12" height="23.3"/>
<path class="eb" d="M12.5,-6V-2M10.5,-6h4M10.5,-2h4M40,-26.7V-18.3M38,-26.7h4M38,-18.3h4M66,-30.7V-18.3M64,-30.7h4M64,-18.3h4"/>
<path class="ax" d="M0,-43.7V0H80M0,-43.7h3M0,-28.3h3M0,-13.7h3M26,0v-3M53,0v-3M80,0v-3"/>
<text class="tk" x="-3" y="-43.7">12</text><text class="tk" x="-3" y="-28.3">8</text><text class="tk" x="-3" y="-13.7">4</text><text class="tk" x="-3" y="0">0</text>
<text class="lt" x="12.5" y="-15">b</text><text class="lt" x="40" y="-34.3">a</text><text class="lt" x="66" y="-37.7">a</text>
<text class="lb" x="30" y="21">GC-(4α-&gt;8)-EGC</text>
</g>
<g id="c-theasinensin" transform="translate(428,1446)">
<text class="yl" transform="translate(-29,-21) rotate(-90)">(×10<tspan class="sp" dy="-4">7</tspan><tspan dy="4">)</tspan></text>
<rect class="g" x="7" y="-14.3" width="12" height="14.3"/><rect class="o" x="37" y="-34.3" width="12" height="34.3"/><rect class="b" x="63" y="-32" width="12" height="32"/>
<path class="eb" d="M43,-37V-31M41,-37h4M41,-31h4M69,-33.3V-31M67,-33.3h4M67,-31h4"/>
<path class="ax" d="M0,-43.7V0H82M0,-43.7h3M0,-28.3h3M0,-14.3h3M28,0v-3M56,0v-3M82,0v-3"/>
<text class="tk" x="-3" y="-43.7">3</text><text class="tk" x="-3" y="-28.3">2</text><text class="tk" x="-3" y="-14.3">1</text><text class="tk" x="-3" y="0">0</text>
<text class="lt" x="13" y="-24.3">b</text><text class="lt" x="43" y="-43.7">a</text><text class="lt" x="69" y="-41.7">a</text>
<text class="lb" x="43" y="21">Theasinensin B</text>
</g>
<g id="c-b3" transform="translate(606,1446)">
<text class="yl" transform="translate(-28,-21) rotate(-90)">(×10<tspan class="sp" dy="-4">5</tspan><tspan dy="4">)</tspan></text>
<rect class="g" x="11" y="-21" width="12" height="21"/><rect class="o" x="38" y="-26.7" width="12" height="26.7"/><rect class="b" x="63.5" y="-17.7" width="12" height="17.7"/>
<path class="eb" d="M17,-24.7V-17.7M15,-24.7h4M15,-17.7h4M44,-29.3V-23.3M42,-29.3h4M42,-23.3h4M69.5,-18.7V-16.7M67.5,-18.7h4M67.5,-16.7h4"/>
<path class="ax" d="M0,-43.7V0H83M0,-43.7h3M0,-30h3M0,-15.3h3M30.5,0v-3M57,0v-3M83,0v-3"/>
<text class="tk" x="-3" y="-43.7">24</text><text class="tk" x="-3" y="-30">16</text><text class="tk" x="-3" y="-15.3">8</text><text class="tk" x="-3" y="0">0</text>
<text class="lt" x="17" y="-34.3">a</text><text class="lt" x="44" y="-34.3">a</text><text class="lt" x="69.5" y="-28.7">b</text>
<text class="lb" x="36" y="21">Procyanidin B3</text>
</g>
<g id="c-b4" transform="translate(785,1446)">
<text class="yl" transform="translate(-28,-21) rotate(-90)">(×10<tspan class="sp" dy="-4">7</tspan><tspan dy="4">)</tspan></text>
<rect class="g" x="9.5" y="-21" width="12" height="21"/><rect class="o" x="35" y="-20" width="12" height="20"/><rect class="b" x="63" y="-12" width="12" height="12"/>
<path class="eb" d="M15.5,-24.7V-17M13.5,-24.7h4M13.5,-17h4M41,-21V-19M39,-21h4M39,-19h4M69,-13.3V-11M67,-13.3h4M67,-11h4"/>
<path class="ax" d="M0,-43.7V0H91M0,-43.7h3M0,-22.7h3M28,0v-3M55,0v-3M91,0v-3"/>
<text class="tk" x="-3" y="-43.7">12</text><text class="tk" x="-3" y="-22.7">6</text><text class="tk" x="-3" y="0">0</text>
<text class="lt" x="15.5" y="-32.7">a</text><text class="lt" x="41" y="-29.3">a</text><text class="lt" x="69" y="-22.7">b</text>
<text class="lb" x="29" y="21">Procyanidin B4</text>
</g>
</svg>
